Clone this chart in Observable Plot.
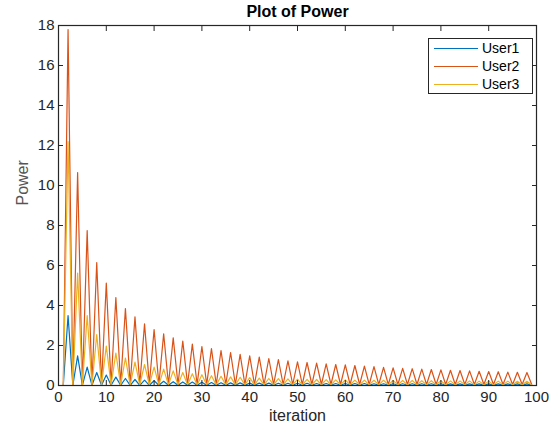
<!DOCTYPE html>
<html>
<head>
<meta charset="utf-8">
<script src="https://cdn.jsdelivr.net/npm/d3@7"></script>
<script src="https://cdn.jsdelivr.net/npm/@observablehq/plot@0.6"></script>
<style>
  html, body { margin: 0; padding: 0; background: #fff; }
  #wrap { position: relative; width: 557px; height: 430px; font-family: "Liberation Sans", Arial, sans-serif; }
  #legend { position: absolute; left: 428px; top: 38px; width: 105px; height: 56px; border: 1px solid #262626; background: #fff; box-sizing: border-box; font-size: 14px; color: #000; }
  .row { position: absolute; left: 5px; height: 18px; display: flex; align-items: center; }
  .row span.sw { display: inline-block; width: 44px; height: 0; border-top: 1.3px solid; margin-right: 4px; }
</style>
</head>
<body>
<div id="wrap"></div>
<script>
const series = ["User1", "User2", "User3"];
const colors = ["#0072BD", "#D95319", "#EDB120"];
const xTicks = [0, 10, 20, 30, 40, 50, 60, 70, 80, 90, 100];
const yTicks = [0, 2, 4, 6, 8, 10, 12, 14, 16, 18];

// values at even iterations 2,4,...,98
const user1Peaks = [3.5, 1.48, 0.92, 0.65, 0.52, 0.42, 0.35, 0.3, 0.27, 0.24,
  0.21, 0.19, 0.18, 0.17, 0.16, 0.15, 0.14, 0.13, 0.13, 0.12,
  0.12, 0.12, 0.11, 0.11, 0.11, 0.11, 0.1, 0.1, 0.1, 0.1,
  0.1, 0.1, 0.09, 0.09, 0.09, 0.09, 0.09, 0.09, 0.09, 0.09,
  0.08, 0.08, 0.08, 0.08, 0.08, 0.08, 0.08, 0.08, 0.08];
const user2Peaks = [17.8, 10.65, 7.75, 6.15, 5.12, 4.4, 3.85, 3.43, 3.08, 2.8,
  2.58, 2.38, 2.22, 2.07, 1.95, 1.84, 1.75, 1.65, 1.56, 1.48,
  1.42, 1.35, 1.29, 1.23, 1.18, 1.15, 1.12, 1.08, 1.05, 1.03,
  1.0, 0.97, 0.94, 0.91, 0.88, 0.86, 0.84, 0.82, 0.8, 0.78,
  0.76, 0.75, 0.73, 0.71, 0.7, 0.69, 0.67, 0.66, 0.65];
const user3Peaks = [12.2, 5.62, 3.5, 2.55, 1.97, 1.62, 1.37, 1.17, 1.05, 0.92,
  0.82, 0.73, 0.65, 0.59, 0.54, 0.49, 0.46, 0.43, 0.41, 0.39,
  0.37, 0.35, 0.34, 0.33, 0.32, 0.31, 0.3, 0.29, 0.28, 0.28,
  0.27, 0.27, 0.26, 0.26, 0.25, 0.25, 0.25, 0.24, 0.24, 0.24,
  0.23, 0.23, 0.23, 0.22, 0.22, 0.22, 0.22, 0.21, 0.21];
// values at odd iterations 1,3,...,99
const user1Troughs = [0, 0.01, 0.01, 0.01, 0.01, 0.01, 0.01, 0.01, 0.01, 0.01,
  0.01, 0.01, 0.01, 0.01, 0.01, 0.01, 0.01, 0.01, 0.01, 0.01,
  0.01, 0.01, 0.01, 0.01, 0.01, 0.01, 0.01, 0.01, 0.01, 0.01,
  0.01, 0.01, 0.01, 0.01, 0.01, 0.01, 0.01, 0.01, 0.01, 0.01,
  0.01, 0.01, 0.01, 0.01, 0.01, 0.01, 0.01, 0.01, 0.01, 0.01];
const user2Troughs = [0, 0.03, 0.04, 0.05, 0.05, 0.05, 0.05, 0.05, 0.05, 0.05,
  0.05, 0.05, 0.05, 0.05, 0.05, 0.05, 0.05, 0.05, 0.05, 0.05,
  0.05, 0.05, 0.05, 0.05, 0.05, 0.05, 0.05, 0.05, 0.05, 0.05,
  0.05, 0.05, 0.05, 0.05, 0.05, 0.05, 0.05, 0.05, 0.05, 0.05,
  0.05, 0.05, 0.05, 0.05, 0.05, 0.05, 0.05, 0.05, 0.05, 0.05];
const user3Troughs = [0, 0.02, 0.03, 0.03, 0.03, 0.03, 0.03, 0.03, 0.03, 0.03,
  0.03, 0.03, 0.03, 0.03, 0.03, 0.03, 0.03, 0.03, 0.03, 0.03,
  0.03, 0.03, 0.03, 0.03, 0.03, 0.03, 0.03, 0.03, 0.03, 0.03,
  0.03, 0.03, 0.03, 0.03, 0.03, 0.03, 0.03, 0.03, 0.03, 0.03,
  0.03, 0.03, 0.03, 0.03, 0.03, 0.03, 0.03, 0.03, 0.03, 0.03];

const peaks = [user1Peaks, user2Peaks, user3Peaks];
const troughs = [user1Troughs, user2Troughs, user3Troughs];

const data = [];
series.forEach((name, s) => {
  for (let i = 1; i <= 99; i++) {
    const v = i % 2 === 0 ? peaks[s][i / 2 - 1] : troughs[s][(i - 1) / 2];
    data.push({series: name, iteration: i, power: v});
  }
});

const axisColor = "#262626";
const chart = Plot.plot({
  width: 557,
  height: 430,
  marginLeft: 58,
  marginRight: 21,
  marginTop: 25,
  marginBottom: 45,
  style: {fontFamily: "'Liberation Sans', Arial, sans-serif", fontSize: "15px", color: axisColor, background: "#fff"},
  x: {domain: [0, 100]},
  y: {domain: [0, 18]},
  color: {domain: series, range: colors},
  marks: [
    Plot.line(data, {x: "iteration", y: "power", z: "series", stroke: "series", strokeWidth: 1.2}),
    Plot.frame({stroke: axisColor, strokeWidth: 1.2}),
    Plot.axisX(xTicks, {anchor: "bottom", tickSize: -5, tickPadding: 11, fontSize: 15, label: null, stroke: axisColor}),
    Plot.axisX(xTicks, {anchor: "top", tickSize: -5, tickFormat: () => "", label: null, stroke: axisColor}),
    Plot.axisY(yTicks, {anchor: "left", tickSize: -5, tickPadding: 9, fontSize: 15, label: null, stroke: axisColor}),
    Plot.axisY(yTicks, {anchor: "right", tickSize: -5, tickFormat: () => "", label: null, stroke: axisColor}),
    Plot.text(["Plot of Power"], {frameAnchor: "top", dy: -13, fontWeight: "bold", fontSize: 16, fill: "#000", lineAnchor: "middle", dy: -14}),
    Plot.text(["iteration"], {frameAnchor: "bottom", dy: 35, fontSize: 16, fill: axisColor}),
    Plot.text(["Power"], {frameAnchor: "left", dx: -36, rotate: -90, fontSize: 16, fill: "#555"})
  ]
});

const wrap = document.getElementById("wrap");
wrap.appendChild(chart);

const legend = document.createElement("div");
legend.id = "legend";
series.forEach((name, i) => {
  const row = document.createElement("div");
  row.className = "row";
  row.style.top = (0 + i * 18) + "px";
  const sw = document.createElement("span");
  sw.className = "sw";
  sw.style.borderTopColor = colors[i];
  row.appendChild(sw);
  row.appendChild(document.createTextNode(name));
  legend.appendChild(row);
});
wrap.appendChild(legend);
</script>
</body>
</html>
